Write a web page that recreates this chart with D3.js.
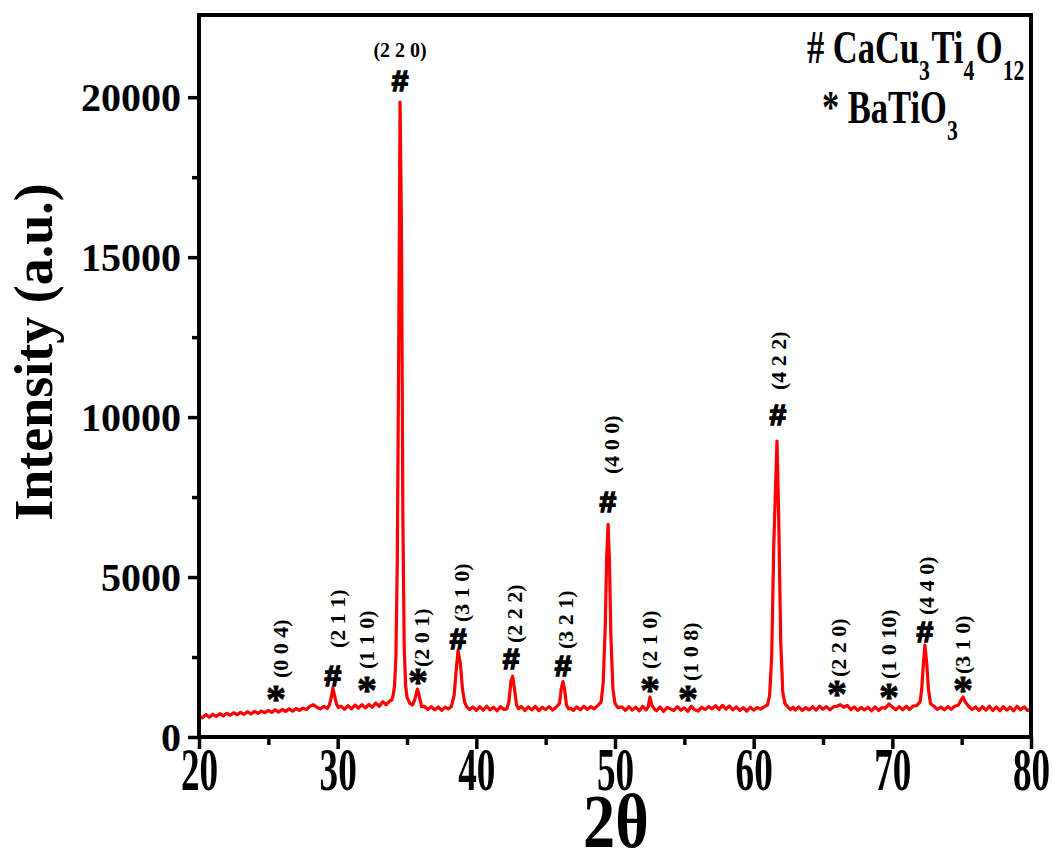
<!DOCTYPE html>
<html><head><meta charset="utf-8">
<script src="https://cdn.jsdelivr.net/npm/d3@7"></script>
<style>
body{margin:0;background:#fff}
svg{display:block}
text{font-family:"Liberation Serif","Times New Roman",serif;font-weight:bold;fill:#000}
</style>
</head><body><svg id="c" width="1053" height="863"></svg>
<script>
const twoTheta = [20.0,20.25,20.5,20.75,21.0,21.25,21.5,21.75,22.0,22.25,22.5,22.75,23.0,23.25,23.5,23.75,24.0,24.25,24.5,24.75,25.0,25.25,25.5,25.75,26.0,26.25,26.5,26.75,27.0,27.25,27.5,27.75,28.0,28.25,28.5,28.75,29.0,29.25,29.4,29.55,29.65,29.75,29.9,30.05,30.25,30.5,30.75,31.0,31.25,31.5,31.75,32.0,32.25,32.5,32.75,33.0,33.25,33.5,33.75,33.9,34.0,34.1,34.2,34.3,34.4,34.5,34.6,34.7,34.8,34.9,35.0,35.2,35.4,35.55,35.75,35.9,36.05,36.25,36.5,36.75,37.0,37.25,37.5,37.75,38.0,38.2,38.4,38.55,38.68,38.85,39.0,39.15,39.3,39.5,39.75,40.0,40.25,40.5,40.75,41.0,41.25,41.5,41.75,42.0,42.2,42.35,42.5,42.62,42.75,42.9,43.05,43.25,43.5,43.75,44.0,44.25,44.5,44.75,45.0,45.25,45.5,45.75,46.0,46.12,46.25,46.38,46.5,46.65,46.8,47.0,47.25,47.5,47.75,48.0,48.25,48.5,48.75,49.0,49.15,49.3,49.4,49.5,49.6,49.7,49.85,50.0,50.2,50.5,50.75,51.0,51.25,51.5,51.75,52.0,52.25,52.4,52.52,52.65,52.85,53.0,53.25,53.5,53.75,54.0,54.25,54.5,54.75,55.0,55.25,55.5,55.75,56.0,56.25,56.5,56.75,57.0,57.25,57.5,57.75,58.0,58.25,58.5,58.75,59.0,59.25,59.5,59.75,60.0,60.25,60.5,60.75,61.0,61.15,61.3,61.45,61.68,61.8,61.95,62.1,62.25,62.45,62.65,62.85,63.0,63.25,63.5,63.75,64.0,64.25,64.5,64.75,65.0,65.25,65.5,65.75,66.0,66.25,66.5,66.75,67.0,67.25,67.5,67.75,68.0,68.25,68.5,68.75,69.0,69.25,69.5,69.75,70.0,70.25,70.5,70.75,71.0,71.25,71.5,71.75,72.0,72.12,72.24,72.35,72.48,72.6,72.75,73.0,73.25,73.5,73.75,74.0,74.25,74.5,74.75,74.95,75.1,75.25,75.5,75.75,76.0,76.25,76.5,76.75,77.0,77.25,77.5,77.75,78.0,78.25,78.5,78.75,79.0,79.25,79.5,79.75,80.0];
const intensity = [
 670,600,700,620,710,640,730,660,740,680,760,700,770,710,790,720,800,740,810,760,830,770,850,780,860,800,880,810,890,830,900,860,960,1010,930,880,960,890,
 1000,1250,1530,1350,1050,920,
 960,870,980,880,1000,900,1010,910,1020,930,1060,960,1100,1010,1130,
 1150,1300,1600,2500,5500,12000,19850,16000,7000,2800,1600,1250,1050,1000,1150,1500,1250,950,
 960,860,950,850,940,830,930,880,
 950,1300,2100,2700,2300,1500,1100,950,
 860,940,830,950,840,960,850,930,820,950,860,
 880,1100,1750,1900,1500,1000,880,
 950,830,940,850,960,820,930,860,950,840,930,
 1050,1500,1730,1450,1000,880,900,
 830,940,850,960,860,950,880,980,
 1100,1700,3500,5600,6650,5500,3200,1500,1050,920,
 940,830,950,840,930,820,960,850,
 950,1250,1000,870,
 820,940,800,920,880,830,950,840,910,800,960,850,810,930,860,950,880,980,860,990,870,970,850,940,830,920,810,930,840,920,870,940,
 1000,1300,2500,6000,9250,7000,3000,1400,1050,
 950,860,930,840,940,830,920,850,950,840,960,870,950,850,940,960,1010,930,990,860,940,830,920,850,930,820,940,830,920,900,1030,940,850,950,850,960,860,970,980,
 1100,1500,2300,2870,2300,1500,1050,
 960,860,940,850,950,870,960,990,
 1150,1250,1100,
 960,860,940,830,950,840,960,830,940,820,950,840,930,820,960,850,940,830,890];

const xMajor = [20,30,40,50,60,70,80];
const xMinor = [25,35,45,55,65,75];
const yMajor = [0,5000,10000,15000,20000];
const yMinor = [2500,7500,12500,17500];

// annotations: phase symbol, hkl label, symbol position and label start (data units)
const annSymbol = ["*","#","*","*","#","#","#","#","*","*","#","*","*","#","*"];
const annHkl = ["(0 0 4)","(2 1 1)","(1 1 0)","(2 0 1)","(3 1 0)","(2 2 2)","(3 2 1)","(4 0 0)","(2 1 0)","(1 0 8)","(4 2 2)","(2 2 0)","(1 0 10)","(4 4 0)","(3 1 0)"];
const annTheta = [25.55,29.66,32.12,35.79,38.68,42.50,46.25,49.49,52.52,55.26,61.75,66.01,69.76,72.35,75.09];
const annLevel = [1407,1938,1688,1938,3095,2469,2251,7377,1688,1407,10097,1563,1469,3313,1688];
const labTheta = [25.84,29.95,32.04,36.01,38.89,42.72,46.39,49.71,52.45,55.40,61.75,66.08,69.69,72.43,75.02];
const labLevel = [1844,2782,2126,2188,3595,2938,2751,8221,2126,1750,10847,1876,1813,3814,1969];
const mainTheta = 34.50, mainLevel = 20537, mainLabelLevel = 21475, mainHkl = "(2 2 0)";

const xLabel = "2θ";
const yLabel = "Intensity (a.u.)";

// ---- drawing ----
const svg = d3.select("#c");
const x = d3.scaleLinear().domain([20,80]).range([199,1031]);
const y = d3.scaleLinear().domain([0,22570]).range([737,15]);

// pattern
const pts = twoTheta.map((t,i)=>[t,intensity[i]]);
svg.append("path")
  .attr("d", d3.line().x(d=>x(d[0])).y(d=>y(d[1]))(pts))
  .attr("fill","none").attr("stroke","#ff0000").attr("stroke-width",3.2).attr("stroke-linejoin","round");

// axes
function styleAxis(g){
  g.select(".domain").remove();
  g.selectAll(".tick line").attr("stroke","#000").attr("stroke-width",3.5);
}
const gx = svg.append("g").attr("transform","translate(0,737)")
  .call(d3.axisBottom(x).tickValues(xMajor).tickSize(12).tickSizeOuter(0).tickPadding(0).tickFormat(d3.format("d")));
styleAxis(gx);
gx.selectAll(".tick text").attr("y",53).attr("dy",0).attr("font-size",62)
  .attr("transform","scale(0.6,1)").style("font-family",'"Liberation Serif",serif').style("font-weight","bold");
const gxm = svg.append("g").attr("transform","translate(0,737)")
  .call(d3.axisBottom(x).tickValues(xMinor).tickSize(8).tickSizeOuter(0).tickFormat(""));
styleAxis(gxm);

const gy = svg.append("g").attr("transform","translate(199,0)")
  .call(d3.axisLeft(y).tickValues(yMajor).tickSize(11).tickSizeOuter(0).tickPadding(7).tickFormat(d3.format("d")));
styleAxis(gy);
gy.selectAll(".tick text").attr("dy","0.34em").attr("font-size",40)
  .style("font-family",'"Liberation Serif",serif').style("font-weight","bold");
const gym = svg.append("g").attr("transform","translate(199,0)")
  .call(d3.axisLeft(y).tickValues(yMinor).tickSize(7).tickSizeOuter(0).tickFormat(""));
styleAxis(gym);

// frame
svg.append("rect").attr("x",x(20)).attr("y",y(22570)).attr("width",x(80)-x(20)).attr("height",y(0)-y(22570))
  .attr("fill","none").attr("stroke","#000").attr("stroke-width",4);

// axis titles
svg.append("text").attr("transform","translate(616,847) scale(0.92,1.08)")
  .attr("text-anchor","middle").attr("font-size",70).text(xLabel);
svg.append("text").attr("transform","translate(52,352) rotate(-90)")
  .attr("text-anchor","middle").attr("font-size",54).text(yLabel);

// annotations
const ann = svg.append("g");
annSymbol.forEach((s,i)=>{
  ann.append("text").attr("x",x(annTheta[i])).attr("y",y(annLevel[i]))
    .attr("text-anchor","middle")
    .style("font-family", s==="#"?'"Liberation Sans",Arial,sans-serif':'"Liberation Serif",serif')
    .attr("font-size", s==="#"?30:40)
    .attr("dy", s==="#"?"0.36em":"0.5em")
    .attr("stroke","#000").attr("stroke-width", s==="#"?1.6:0.8)
    .text(s);
  ann.append("text")
    .attr("transform",`translate(${x(labTheta[i])},${y(labLevel[i])}) rotate(-90)`)
    .attr("font-size",22).attr("dy","0.35em").text(annHkl[i]);
});
ann.append("text").attr("x",x(mainTheta)).attr("y",y(mainLevel)).attr("text-anchor","middle")
  .style("font-family",'"Liberation Sans",Arial,sans-serif')
  .attr("stroke","#000").attr("stroke-width",1.6)
  .attr("font-size",30).attr("dy","0.36em").text("#");
ann.append("text").attr("x",x(mainTheta)).attr("y",y(mainLabelLevel)).attr("text-anchor","middle")
  .attr("font-size",20).attr("dy","0.35em").text(mainHkl);

// legend
function legendRow(tx,ty,parts){
  const t = svg.append("text").attr("transform",`translate(${tx},${ty}) scale(0.75,1)`).attr("font-size",46);
  parts.forEach(p=>{
    const ts = t.append("tspan").text(p[0]);
    if(p[1]){ ts.attr("font-size",29).attr("dy",17); }
    else if(p[2]){ ts.attr("dy",-17).attr("dx",2); }
  });
}
legendRow(807,63,[["# CaCu"],["3",true],["Ti",false,true],["4",true],["O",false,true],["12",true]]);
legendRow(822,123,[["* BaTiO"],["3",true]]);
</script>
</body></html>
